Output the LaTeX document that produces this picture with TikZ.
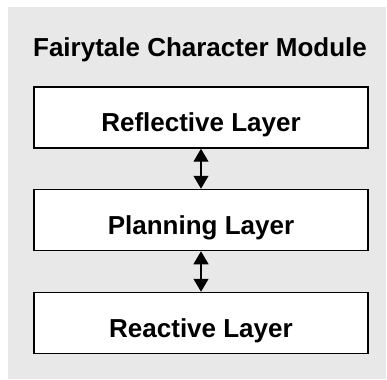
\documentclass[tikz,border=0pt]{standalone}
\usepackage{fontspec}
\setmainfont{Liberation Sans}
\usetikzlibrary{arrows.meta}
\begin{document}
\begin{tikzpicture}[x=1pt,y=-1pt,
  txt/.style={font=\fontsize{26}{30}\selectfont\bfseries},
  layer/.style={txt,draw=black,line width=1.5pt,fill=white,minimum width=334pt,minimum height=61pt,inner sep=0pt,text height=28pt,text depth=0pt},
  link/.style={line width=1.2pt,{Triangle[length=13pt,width=15pt]}-{Triangle[length=13pt,width=15pt]}}]
\useasboundingbox (0,0) rectangle (387,379);
\fill[fill={rgb,255:red,232;green,232;blue,232}] (8,7) rectangle (386,379);
\node[txt,anchor=base] (title) at (200,57) {Fairytale Character Module};
\node[layer] (refl) at (201,117.5) {Reflective Layer};
\node[layer] (plan) at (201,220) {Planning Layer};
\node[layer] (reac) at (201,323) {Reactive Layer};
\draw[link] (refl.south) -- (plan.north);
\draw[link] (plan.south) -- (reac.north);
\end{tikzpicture}
\end{document}
